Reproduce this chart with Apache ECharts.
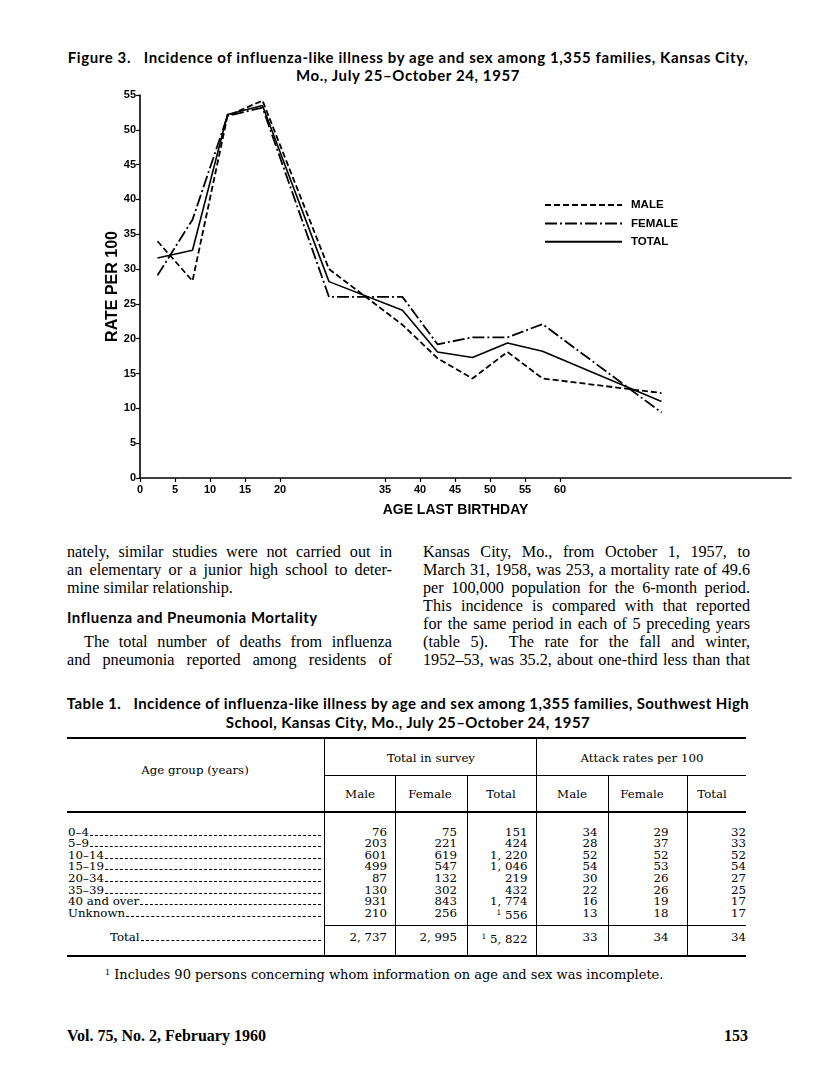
<!DOCTYPE html>
<html>
<head>
<meta charset="utf-8">
<script src="https://cdn.jsdelivr.net/npm/echarts@6/dist/echarts.min.js"></script>
<style>
  html, body { margin:0; padding:0; background:#fff; }
  body { width:816px; height:1075px; position:relative; overflow:hidden; color:#000; }
  #chart { position:absolute; left:0; top:0; width:816px; height:530px; }
  .ttl { position:absolute; left:40px; width:736px; text-align:center; font-family:Lato, "Liberation Sans", sans-serif; font-weight:bold; font-size:15px; letter-spacing:0.6px; line-height:18px; white-space:nowrap; }
  .ln { position:absolute; font-family:"Liberation Serif", serif; font-size:16.2px; line-height:18px; white-space:nowrap; height:18px; }
  .j { text-align:justify; text-align-last:justify; white-space:normal; }
  .hd { position:absolute; font-family:Lato, "Liberation Sans", sans-serif; font-weight:bold; font-size:15px; letter-spacing:0.5px; line-height:18px; white-space:nowrap; }
  .t { position:absolute; font-family:"DejaVu Serif", serif; font-size:11.8px; line-height:12px; white-space:nowrap; }
  .rule { position:absolute; background:#000; }
  .foot { position:absolute; font-family:"Liberation Serif", serif; font-weight:bold; font-size:16px; line-height:18px; white-space:nowrap; }
</style>
</head>
<body>
<div class="ttl" style="top:48px">Figure 3.&nbsp;&nbsp; Incidence of influenza-like illness by age and sex among 1,355 families, Kansas City,</div>
<div class="ttl" style="top:66px">Mo., July 25–October 24, 1957</div>
<div id="chart"></div>
<div id="text"></div>
<div id="table"></div>
<script>
// ---- chart data ----
const ages       = [2.5, 7.5, 12.5, 17.5, 27, 37.5, 42.5, 47.5, 52.5, 57.5, 74.5];
const maleRate   = [34, 28.3, 52, 54.2, 30, 22, 17.2, 14.3, 18.1, 14.3, 12.2];
const femaleRate = [29.1, 37.1, 52, 53.2, 26, 26, 19.2, 20.2, 20.2, 22.1, 9.4];
const totalRate  = [31.6, 32.7, 52.2, 53.5, 28.2, 24.1, 18.1, 17.3, 19.4, 18.2, 11.0];
const xTickValues = [0, 5, 10, 15, 20, 35, 40, 45, 50, 55, 60];
const seriesNames = ['MALE', 'FEMALE', 'TOTAL'];

// ---- table data ----
const ageGroups    = ['0–4', '5–9', '10–14', '15–19', '20–34', '35–39', '40 and over', 'Unknown'];
const surveyMale   = ['76', '203', '601', '499', '87', '130', '931', '210'];
const surveyFemale = ['75', '221', '619', '547', '132', '302', '843', '256'];
const surveyTotal  = ['151', '424', '1, 220', '1, 046', '219', '432', '1, 774', '<sup>1</sup> 556'];
const attackMale   = ['34', '28', '52', '54', '30', '22', '16', '13'];
const attackFemale = ['29', '37', '52', '53', '26', '26', '19', '18'];
const attackTotal  = ['32', '33', '52', '54', '27', '25', '17', '17'];
const totalRow     = ['2, 737', '2, 995', '<sup>1</sup> 5, 822', '33', '34', '34'];

const chart = echarts.init(document.getElementById('chart'), null, {renderer: 'canvas'});
const lab = { color:'#000', fontFamily:'"Liberation Sans", sans-serif', fontWeight:'bold', fontSize:11 };
const pair = arr => ages.map((a, i) => [a, arr[i]]);
const hidden = { color:'#000', opacity:0 };
chart.setOption({
  animation: false,
  grid: { left: 140, top: 95, width: 651, height: 383 },
  legend: {
    data: seriesNames, orient: 'vertical', left: 539, top: 194,
    itemWidth: 77, itemHeight: 10, itemGap: 6.4,
    itemStyle: { opacity: 0 },
    textStyle: { color:'#000', fontFamily:'"Liberation Sans", sans-serif', fontWeight:'bold', fontSize:11.5, padding:[0,0,0,4] }
  },
  xAxis: {
    type: 'value', min: 0, max: 93,
    name: 'AGE LAST BIRTHDAY', nameLocation: 'middle', nameGap: 25,
    nameTextStyle: { color:'#000', fontFamily:'"Liberation Sans", sans-serif', fontWeight:'bold', fontSize:14, padding:[0,20,0,0] },
    axisLine: { lineStyle: { color:'#000', width:1.6 } },
    axisTick: { show:true, length:4, lineStyle:{ color:'#000', width:1.2 }, customValues: xTickValues },
    axisLabel: Object.assign({ margin:6, customValues: xTickValues }, lab),
    splitLine: { show:false }
  },
  yAxis: {
    type: 'value', min: 0, max: 55, interval: 5,
    name: 'RATE PER 100', nameLocation: 'middle', nameGap: 19, nameRotate: 90, nameMoveOverlap: false,
    nameTextStyle: { color:'#000', fontFamily:'"Liberation Sans", sans-serif', fontWeight:'bold', fontSize:16 },
    axisLine: { show:true, lineStyle: { color:'#000', width:1.6 } },
    axisTick: { show:true, length:4, lineStyle:{ color:'#000', width:1.2 } },
    axisLabel: Object.assign({ margin:4 }, lab),
    splitLine: { show:false }
  },
  series: [
    { name:'MALE', type:'line', symbol:'none', data: pair(maleRate),
      lineStyle:{ color:'#000', width:1.8, type:[6,3] }, itemStyle: hidden },
    { name:'FEMALE', type:'line', symbol:'none', data: pair(femaleRate),
      lineStyle:{ color:'#000', width:1.8, type:[12,3,2,3] }, itemStyle: hidden },
    { name:'TOTAL', type:'line', symbol:'none', data: pair(totalRate),
      lineStyle:{ color:'#000', width:1.6 }, itemStyle: hidden }
  ]
});

// ---- body text ----
const leftLines = [
  ['nately, similar studies were not carried out in', 'j', 67, 325, 543],
  ['an elementary or a junior high school to deter-', 'j', 67, 325, 561],
  ['mine similar relationship.', '', 67, 325, 579],
  ['The total number of deaths from influenza', 'j', 84, 308, 633],
  ['and pneumonia reported among residents of', 'j', 67, 325, 651]
];
const rightLines = [
  'Kansas City, Mo., from October 1, 1957, to',
  'March 31, 1958, was 253, a mortality rate of 49.6',
  'per 100,000 population for the 6-month period.',
  'This incidence is compared with that reported',
  'for the same period in each of 5 preceding years',
  '(table 5).&nbsp; The rate for the fall and winter,',
  '1952–53, was 35.2, about one-third less than that'
];
let h = '';
leftLines.forEach(l => { h += `<div class="ln ${l[1]}" style="left:${l[2]}px;width:${l[3]}px;top:${l[4]}px">${l[0]}</div>`; });
rightLines.forEach((t, i) => { h += `<div class="ln j" style="left:423px;width:327px;top:${543 + i*18}px">${t}</div>`; });
h += `<div class="hd" style="left:67px;top:608px">Influenza and Pneumonia Mortality</div>`;
h += `<div class="ttl" style="top:694px;letter-spacing:0.42px">Table 1.&nbsp;&nbsp; Incidence of influenza-like illness by age and sex among 1,355 families, Southwest High</div>`;
h += `<div class="ttl" style="top:713px;letter-spacing:0.42px">School, Kansas City, Mo., July 25–October 24, 1957</div>`;
document.getElementById('text').innerHTML = h;

// ---- table ----
let t = '';
const rule = (x, y, w, hh) => `<div class="rule" style="left:${x}px;top:${y}px;width:${w}px;height:${hh}px"></div>`;
t += rule(67, 737, 679, 2);
t += rule(324, 775, 422, 1);
t += rule(67, 811, 679, 1.5);
t += rule(324, 925, 422, 1);
t += rule(67, 955, 679, 2);
[324, 536].forEach(x => { t += rule(x, 739, 1, 217); });
[395, 467, 608, 687].forEach(x => { t += rule(x, 776, 1, 180); });
const ctext = (txt, cx, cy) => `<div class="t" style="left:${cx-70}px;width:140px;text-align:center;top:${cy-6}px">${txt}</div>`;
t += ctext('Age group (years)', 195, 770);
t += ctext('Total in survey', 431, 758);
t += ctext('Attack rates per 100', 642, 758);
const subCenters = [360, 430, 501, 572, 642, 712];
['Male','Female','Total','Male','Female','Total'].forEach((s, i) => { t += ctext(s, subCenters[i], 794); });
const rightEdges = [387, 457, 527.5, 597.5, 668.5, 746];
const cols = [surveyMale, surveyFemale, surveyTotal, attackMale, attackFemale, attackTotal];
const stub = (txt, x, cy) => `<div class="t" style="left:${x}px;width:${321-x}px;top:${cy-6}px;display:flex;align-items:flex-end"><span>${txt}</span><span style="flex:1;margin-left:1px;border-bottom:1px dashed #000;height:0;margin-bottom:2px"></span></div>`;
const num = (txt, rx, cy) => `<div class="t" style="left:${rx-80}px;width:80px;text-align:right;top:${cy-6}px">${txt.replace('<sup>1</sup>','<span style="font-size:7.5px;vertical-align:4px">1</span>')}</div>`;
ageGroups.forEach((g, r) => {
  const cy = 831.5 + r * 11.66;
  t += stub(g, 68, cy);
  cols.forEach((c, k) => { t += num(c[r], rightEdges[k], cy); });
});
t += stub('Total', 110, 937);
totalRow.forEach((v, k) => { t += num(v, rightEdges[k], 937); });
t += `<div class="t" style="left:105px;top:966px;font-size:13px;line-height:14px"><span style="font-size:8px;vertical-align:4px">1</span> Includes 90 persons concerning whom information on age and sex was incomplete.</div>`;
t += `<div class="foot" style="left:67px;top:1027px">Vol. 75, No. 2, February 1960</div>`;
t += `<div class="foot" style="left:648px;width:100px;text-align:right;top:1027px">153</div>`;
document.getElementById('table').innerHTML = t;
</script>
</body>
</html>
